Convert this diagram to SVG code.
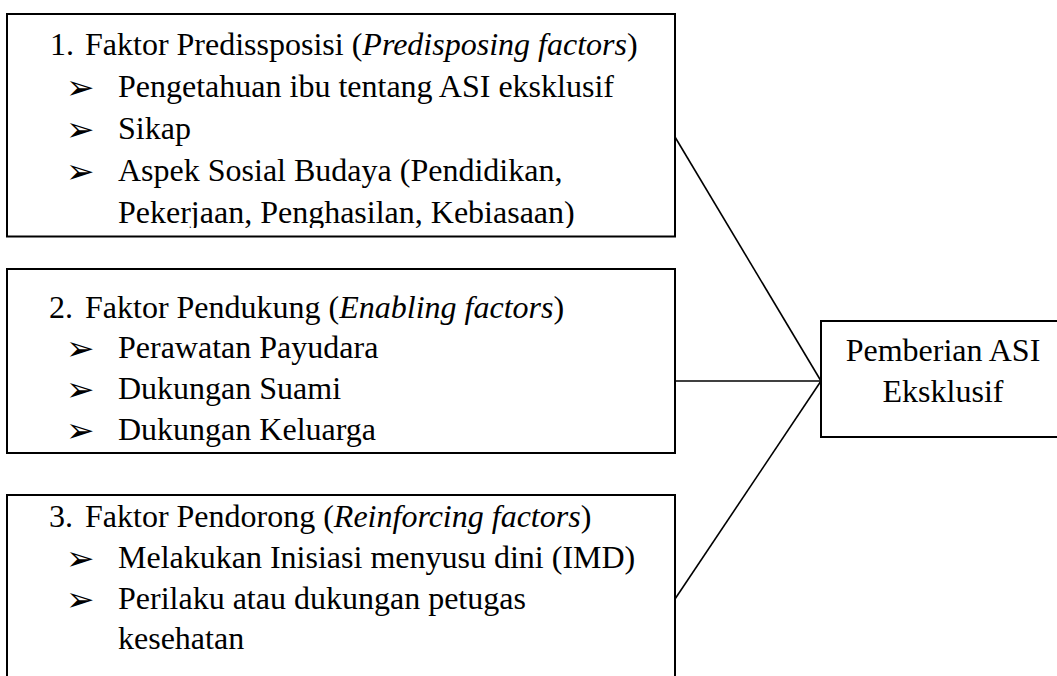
<svg xmlns="http://www.w3.org/2000/svg" width="1057" height="676" viewBox="0 0 1057 676">
  <style>
    .box { fill: #ffffff; stroke: #000000; stroke-width: 2; }
    .link { stroke: #000000; stroke-width: 1.6; fill: none; }
    .t { font-family: "Liberation Serif", "Times New Roman", serif; font-size: 32px; fill: #000000; }
    .i { font-style: italic; }
    .b { font-family: "DejaVu Sans", sans-serif; font-size: 34px; fill: #000000; }
  </style>
  <defs>
    <clipPath id="clip1">
      <rect x="8" y="15" width="666" height="213"/>
    </clipPath>
  </defs>
  <rect x="0" y="0" width="1057" height="676" fill="#ffffff"/>

  <g id="connectors">
    <line class="link" x1="675" y1="137" x2="821" y2="381"/>
    <line class="link" x1="675" y1="381" x2="821" y2="381"/>
    <line class="link" x1="675" y1="599" x2="821" y2="381"/>
  </g>

  <g id="node-predisposing">
    <rect class="box" x="7" y="14" width="668" height="222.5"/>
    <g clip-path="url(#clip1)">
      <text class="t" x="50" y="55">1.</text>
      <text class="t" x="85" y="55">Faktor Predissposisi (<tspan class="i">Predisposing factors</tspan>)</text>
      <text class="b" x="66" y="99">➢</text>
      <text class="t" x="118" y="97">Pengetahuan ibu tentang ASI eksklusif</text>
      <text class="b" x="66" y="141">➢</text>
      <text class="t" x="118" y="139">Sikap</text>
      <text class="b" x="66" y="183">➢</text>
      <text class="t" x="118" y="181">Aspek Sosial Budaya (Pendidikan,</text>
      <text class="t" x="118" y="223">Pekerjaan, Penghasilan, Kebiasaan)</text>
    </g>
  </g>

  <g id="node-enabling">
    <rect class="box" x="7" y="269" width="668" height="184"/>
    <text class="t" x="49" y="318">2.</text>
    <text class="t" x="85" y="318">Faktor Pendukung (<tspan class="i">Enabling factors</tspan>)</text>
    <text class="b" x="66" y="360">➢</text>
    <text class="t" x="118" y="358">Perawatan Payudara</text>
    <text class="b" x="66" y="401">➢</text>
    <text class="t" x="118" y="399">Dukungan Suami</text>
    <text class="b" x="66" y="442">➢</text>
    <text class="t" x="118" y="440">Dukungan Keluarga</text>
  </g>

  <g id="node-reinforcing">
    <rect class="box" x="7" y="495" width="668" height="200"/>
    <text class="t" x="49" y="527">3.</text>
    <text class="t" x="85" y="527">Faktor Pendorong (<tspan class="i">Reinforcing factors</tspan>)</text>
    <text class="b" x="66" y="570">➢</text>
    <text class="t" x="118" y="568">Melakukan Inisiasi menyusu dini (IMD)</text>
    <text class="b" x="66" y="611">➢</text>
    <text class="t" x="118" y="609">Perilaku atau dukungan petugas</text>
    <text class="t" x="118" y="649">kesehatan</text>
  </g>

  <g id="node-outcome">
    <rect class="box" x="821" y="321" width="250" height="116"/>
    <text class="t" x="943" y="361" text-anchor="middle">Pemberian ASI</text>
    <text class="t" x="943" y="402" text-anchor="middle">Eksklusif</text>
  </g>
</svg>
